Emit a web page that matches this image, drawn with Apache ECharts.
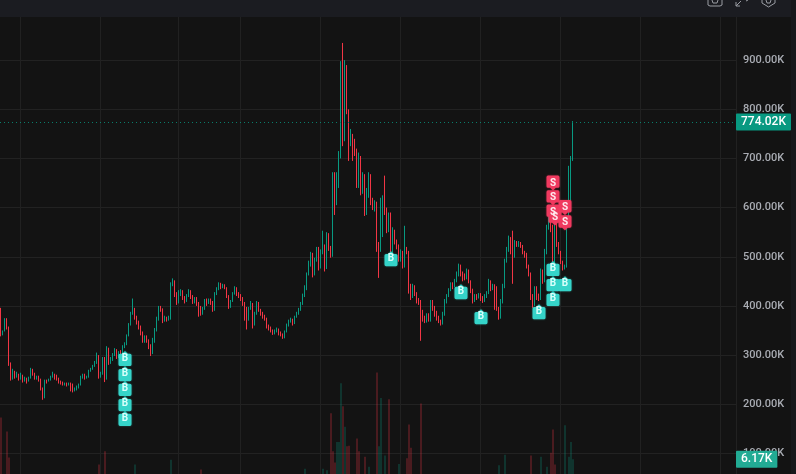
<!DOCTYPE html>
<html>
<head>
<meta charset="utf-8">
<style>html,body{margin:0;padding:0;background:#131313;overflow:hidden}#c{width:796px;height:474px}</style>
<script src="https://cdn.jsdelivr.net/npm/echarts@6/dist/echarts.min.js"></script>
</head>
<body>
<div id="c"></div>
<script>
// All prices in thousands (K)
const firstOpen = 394;
const closes = [
345,352,372,355,280,255,268,255,262,250,
258,248,252,246,254,270,262,252,256,250,
232,213,248,246,250,256,262,258,252,246,
244,240,242,238,242,240,228,230,234,240,
256,258,254,256,268,272,278,285,299,258,
262,293,256,313,285,290,300,311,296,305,
303,316,323,340,362,385,395,378,368,358,
345,330,335,330,318,305,330,350,375,396,
392,370,375,372,376,445,450,425,410,425,
430,418,410,420,430,420,408,415,405,398,
385,395,410,405,412,408,392,425,435,445,
438,442,437,420,398,410,425,437,428,421,
415,405,396,372,395,405,362,385,405,392,
385,378,375,358,355,350,345,348,352,344,
342,336,348,360,368,372,365,378,385,392,
405,420,437,465,490,505,465,495,516,478,
510,522,478,545,518,505,665,610,668,705,
890,740,895,800,735,745,735,712,650,700,
635,665,590,625,665,615,600,610,520,515,
545,610,590,555,585,495,550,530,520,495,
508,480,518,510,430,420,440,425,410,408,
380,375,370,378,372,408,396,385,376,370,
364,384,410,420,432,445,440,450,465,480,
465,460,458,472,450,430,410,420,418,422,
418,410,420,427,450,437,440,437,394,376,
410,440,492,515,535,518,500,530,525,528,
522,510,505,480,465,420,405,437,420,415,
472,450,512,560,590,560,495,565,525,510,
490,478,480,565,640,700,774.02
];
const highs = [
396,350,375,375,358,285,272,268,266,262,
264,260,256,254,256,274,272,264,258,258,
252,234,250,250,252,258,266,262,260,254,
248,246,244,244,244,244,242,234,238,242,
258,262,262,258,270,274,280,288,305,300,
266,296,296,318,315,296,304,314,312,308,
310,320,326,342,365,388,415,396,380,370,
360,348,340,340,332,322,335,355,378,400,
400,395,380,378,380,448,456,452,428,432,
434,432,420,424,434,432,422,418,418,408,
400,398,414,415,415,415,410,428,438,448,
447,445,444,438,422,412,428,440,438,428,
424,418,408,398,398,410,406,388,410,408,
394,388,382,376,362,358,352,352,356,354,
348,344,350,364,372,376,374,380,388,396,
408,425,442,468,492,510,508,498,520,520,
515,553,525,550,548,522,672,672,672,715,
898,935,900,890,800,760,750,740,720,712,
705,672,668,640,672,668,620,615,612,530,
620,625,665,600,590,590,560,555,535,525,
515,512,563,520,512,445,445,442,428,416,
412,392,380,385,385,412,412,400,390,380,
372,388,414,424,436,448,448,455,470,486,
484,470,466,476,474,452,435,424,424,426,
426,420,424,430,455,452,445,444,440,398,
414,445,496,520,543,540,553,534,532,532,
530,524,512,508,484,468,424,440,440,425,
476,474,516,565,600,595,565,575,570,530,
512,492,484,570,685,705,776
];
const lows = [
338,340,348,352,278,248,250,252,254,248,
250,244,246,242,246,252,258,250,250,246,
228,209,212,242,246,248,254,250,248,242,
240,238,238,236,238,226,224,226,228,232,
238,252,250,252,254,266,270,276,282,252,
254,260,245,250,280,282,288,298,292,294,
298,300,314,320,338,360,382,372,362,352,
340,325,325,325,312,298,302,325,348,370,
388,365,368,368,370,372,440,418,402,405,
420,412,405,408,418,414,404,405,400,378,
380,382,392,400,404,402,388,390,422,432,
434,436,434,416,394,396,408,423,420,416,
410,400,370,352,370,392,354,360,382,388,
380,374,370,354,350,346,341,342,346,340,
338,333,334,346,358,366,360,363,376,382,
390,402,418,432,462,480,458,462,490,472,
476,505,470,475,512,498,500,585,605,640,
700,725,735,790,695,725,695,705,640,640,
625,628,583,585,620,605,595,592,510,457,
510,540,585,548,550,486,490,525,515,490,
490,476,478,505,425,412,416,420,405,402,
329,368,365,366,368,368,390,378,370,365,
360,362,380,405,418,430,434,438,448,460,
460,450,452,454,446,426,405,408,412,415,
410,406,408,416,424,430,432,392,390,372,
374,405,436,488,510,505,445,498,520,520,
518,505,498,476,460,412,396,400,412,410,
412,445,448,505,555,550,470,486,520,505,
485,472,474,478,560,614,695
];
// [bar number, volume in K]
const volumeUp = [[67,5.4],[85,6.1],[152,4.8],[161,4.8],[163,4.6],[168,8.6],[169,8.6],[170,17],[172,10.8],[184,5.1],[189,8],[190,14.9],[192,6.7],[199,5.5],[249,5.3],[252,6.8],[270,6.5],[273,5.1],[282,11],[284,6.5],[285,8.6],[286,6.17]];
const volumeDown = [[0,12.1],[3,10.1],[4,6.4],[49,5.4],[52,7.3],[100,4.7],[165,12.7],[166,7.3],[167,5.7],[171,13.7],[173,8],[174,8.1],[178,9.1],[179,7.3],[182,6.5],[188,18.5],[194,14.7],[203,6.3],[204,11.1],[205,7.8],[210,14.1],[265,6.7],[275,7.1],[276,10.4],[277,5.4]];
// [bar number, price in K]
const buyMarks = [[62,293],[62,262],[62,232],[62,201],[62,171],[195,496],[230,429],[240,378],[269,388],[276,476],[276,445],[276,415],[282,445]];
const sellMarks = [[276,650],[276,620],[276,591],[277,579],[282,600],[282,569]];
const gridBars = [10,50,89,120,160,200,240,280,320,360];
const lastPrice = 774.02;
const lastVolume = 6.17;
const barCount = 368;

const categories = Array.from({length: barCount}, (_, i) => String(i + 1));
const candles = closes.map((c, i) => [i === 0 ? firstOpen : closes[i - 1], c, lows[i], highs[i]]);
const UP = '#089981', DOWN = '#f23645';
const pin = 'path://M6 0 L8.6 2.5 H10.5 Q12 2.5 12 4 V12.5 Q12 14 10.5 14 H1.5 Q0 14 0 12.5 V4 Q0 2.5 1.5 2.5 H3.4 Z';
const pinDown = 'path://M1.5 0 H10.5 Q12 0 12 1.5 V10 Q12 11.5 10.5 11.5 H8.6 L6 14 L3.4 11.5 H1.5 Q0 11.5 0 10 V1.5 Q0 0 1.5 0 Z';
const markPts = buyMarks.map(m => ({coord: m, symbol: pin, symbolSize: [13, 15],
    itemStyle: {color: '#35d4c9', shadowColor: 'rgba(53,212,201,0.45)', shadowBlur: 2}, label: {formatter: 'B', color: '#d8fffb'}}))
  .concat(sellMarks.map(m => ({coord: m, symbol: pinDown, symbolSize: [13, 15],
    itemStyle: {color: '#f0395f', shadowColor: 'rgba(240,57,95,0.45)', shadowBlur: 2}, label: {formatter: 'S', color: '#ffe9ee'}})));

const chart = echarts.init(document.getElementById('c'), null, {renderer: 'canvas'});
const badge = (text, bg, pad) => ({
  show: true, position: 'end', distance: 0, formatter: text, color: '#fff',
  backgroundColor: bg, padding: pad, fontFamily: 'Roboto', fontSize: 12, fontWeight: 500, borderRadius: 1
});
const iconStroke = {fill: 'none', stroke: '#9a9ca3', lineWidth: 1};
const icon = pts => ({type: 'polyline', z: 101, shape: {points: pts}, style: iconStroke});
chart.setOption({
  animation: false,
  backgroundColor: '#131313',
  grid: {left: 0, width: 736, top: 11, height: 491.5, containLabel: false, outerBoundsMode: 'none'},
  xAxis: {
    type: 'category', data: categories, boundaryGap: true,
    axisLine: {show: false}, axisTick: {show: false}, axisLabel: {show: false},
    splitLine: {show: true, interval: i => gridBars.includes(i), lineStyle: {color: '#212121', width: 1}}
  },
  yAxis: [{
    type: 'value', position: 'right', min: 0, max: 1000, interval: 100, scale: false,
    axisLine: {show: false}, axisTick: {show: false},
    axisLabel: {margin: 7, color: '#a9acb3', fontFamily: 'Roboto', fontSize: 11, fontWeight: 500, padding: [2, 0, 0, 0],
      showMaxLabel: false, formatter: v => v.toFixed(2) + 'K'},
    splitLine: {show: true, lineStyle: {color: '#222222', width: 1}}
  }, {
    type: 'value', min: 0, max: 70, show: false, splitLine: {show: false}
  }],
  series: [{
    type: 'bar', yAxisIndex: 1, barWidth: 1, barGap: '-100%', data: volumeUp,
    itemStyle: {color: 'rgba(8,153,129,0.5)'},
    markLine: {silent: true, symbol: 'none', lineStyle: {color: 'transparent', width: 0},
      data: [{yAxis: lastVolume}], label: badge('6.17K', '#22ab94', [3, 5, 2, 5])}
  }, {
    type: 'bar', yAxisIndex: 1, barWidth: 1, barGap: '-100%', data: volumeDown,
    itemStyle: {color: 'rgba(242,54,69,0.5)'}
  }, {
    type: 'candlestick', data: candles, barWidth: 0.4,
    itemStyle: {color: UP, color0: DOWN, borderColor: UP, borderColor0: DOWN, borderWidth: 1},
    markLine: {silent: true, symbol: 'none', z: 20,
      lineStyle: {color: '#0a7d6b', type: [1, 3], width: 1},
      data: [{yAxis: lastPrice}], label: badge('774.02K', '#089981', [3, 5, 2, 5])},
    markPoint: {silent: true, z: 15, data: markPts,
      label: {show: true, position: 'inside', fontFamily: 'Roboto', fontSize: 10, fontWeight: 700}}
  }],
  graphic: [
    {type: 'rect', z: 100, shape: {x: 0, y: 0, width: 791, height: 17}, style: {fill: '#1b1c21'}},
    {type: 'rect', z: 100, shape: {x: 791, y: 0, width: 5, height: 474}, style: {fill: '#17181b'}},
    icon([[708,0],[708,5],[710,6],[720,6],[722,5],[722,0]]),
    icon([[712,0],[713,3],[717,3],[718,0]]),
    icon([[736,6],[741,1]]),
    icon([[736,2],[736,6],[740,6]]),
    icon([[746,1],[748,0]]),
    icon([[762,0],[762,3],[768.5,7],[775,3],[775,0]]),
    icon([[766,0],[767,3],[770,3],[771,0]])
  ]
});
</script>
</body>
</html>
